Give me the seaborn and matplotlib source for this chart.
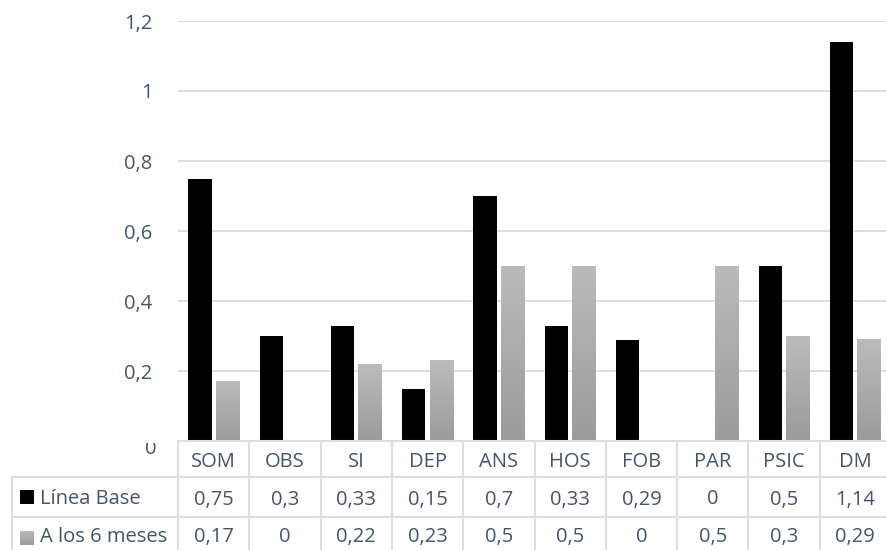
import numpy as np
import pandas as pd
import matplotlib
matplotlib.use("Agg")
import matplotlib.pyplot as plt
import seaborn as sns
from matplotlib.transforms import blended_transform_factory, Bbox, TransformedBbox
from matplotlib.colors import LinearSegmentedColormap
from matplotlib.patches import Rectangle
from matplotlib.lines import Line2D

# Data
categories = ["SOM", "OBS", "SI", "DEP", "ANS", "HOS", "FOB", "PAR", "PSIC", "DM"]
series_names = ["Línea Base", "A los 6 meses"]
linea_base = [0.75, 0.3, 0.33, 0.15, 0.7, 0.33, 0.29, 0, 0.5, 1.14]
seis_meses = [0.17, 0, 0.22, 0.23, 0.5, 0.5, 0, 0.5, 0.3, 0.29]
y_ticks = [0, 0.2, 0.4, 0.6, 0.8, 1.0, 1.2]


def fmt(v):
    return f"{v:g}".replace(".", ",")


TEXT = "#44546A"
GRID = "#D9DEE7"
FS = 14.5

sns.set_theme(style="white")
plt.rcParams["font.family"] = ["Open Sans", "DejaVu Sans"]

W, H = 886, 550
fig = plt.figure(figsize=(W / 100, H / 100), dpi=100)

ax = fig.add_axes([178 / W, (H - 441) / H, 713 / W, 420 / H])

df = pd.DataFrame({
    "cat": categories * 2,
    "serie": [series_names[0]] * len(categories) + [series_names[1]] * len(categories),
    "val": linea_base + seis_meses,
})
sns.barplot(data=df, x="cat", y="val", hue="serie", order=categories,
            hue_order=series_names, palette=["#000000", "#ABABAB"],
            saturation=1, width=0.77, gap=0.15, linewidth=0,
            errorbar=None, legend=False, ax=ax)

# gray bars get a vertical shade, lighter at the top
grad_cmap = LinearSegmentedColormap.from_list("shade", ["#9B9B9B", "#BBBBBB"])
grad = np.linspace(0, 1, 256).reshape(-1, 1)
for p in ax.containers[1]:
    h = p.get_height()
    if h <= 0:
        continue
    x0, w = p.get_x(), p.get_width()
    ax.imshow(grad, extent=[x0, x0 + w, 0, h], origin="lower", cmap=grad_cmap,
              aspect="auto", interpolation="bilinear", zorder=p.get_zorder() + 0.1)

ax.set_xlim(-0.5, len(categories) - 0.5)
ax.set_ylim(0, 1.2)
ax.set_yticks(y_ticks)
ax.set_yticklabels(["" if v == 0 else fmt(v) for v in y_ticks], color=TEXT, fontsize=FS)
ax.tick_params(axis="y", length=0, pad=18.5)
ax.tick_params(axis="x", length=0, labelbottom=False)
ax.set_xlabel("")
ax.set_ylabel("")
ax.yaxis.grid(True, color=GRID, lw=1.4)
ax.set_axisbelow(True)
for s in ax.spines.values():
    s.set_visible(False)

# overlay in pixel units for the data table
ov = fig.add_axes([0, 0, 1, 1], zorder=3)
ov.set_autoscale_on(False)
ov.set_xlim(0, W)
ov.set_ylim(H, 0)
ov.axis("off")
ov.patch.set_alpha(0)
bt = blended_transform_factory(ax.transData, ov.transData)

# zero label, partly hidden under the table top
zero = ov.text(157, 453.5, fmt(y_ticks[0]), ha="right", va="baseline", color=TEXT, fontsize=FS)
zero.set_clip_box(TransformedBbox(Bbox([[0, 0], [1, (H - 442.5) / H]]), fig.transFigure))
zero.set_clip_on(True)

n = len(categories)
edges = np.arange(n + 1) - 0.5
for e in edges:
    ov.add_line(Line2D([e, e], [441, H], transform=bt, color=GRID, lw=1.5, clip_on=False))
ov.add_line(Line2D([-0.5, n + 1], [441, 441], transform=bt, color=GRID, lw=1.5, clip_on=False))
for yy in (477, 517):
    ov.add_line(Line2D([12, W], [yy, yy], color=GRID, lw=1.5))
ov.add_line(Line2D([12, 12], [477, H], color=GRID, lw=1.5))

for i, c in enumerate(categories):
    ov.text(i, 467, c, transform=bt, ha="center", va="baseline", color=TEXT, fontsize=FS)
    ov.text(i, 504.5, fmt(linea_base[i]), transform=bt, ha="center", va="baseline", color=TEXT, fontsize=FS)
    ov.text(i, 542, fmt(seis_meses[i]), transform=bt, ha="center", va="baseline", color=TEXT, fontsize=FS)

# row headers with legend keys
ov.add_patch(Rectangle((20, 489.5), 14, 14, facecolor="#000000", edgecolor="none"))
ov.imshow(grad, extent=(20, 34, 545.5, 531.5), origin="lower", cmap=grad_cmap,
          aspect="auto", interpolation="bilinear")
ov.set_xlim(0, W)
ov.set_ylim(H, 0)
ov.text(40, 504.5, series_names[0], ha="left", va="baseline", color=TEXT, fontsize=FS)
ov.text(40, 542, series_names[1], ha="left", va="baseline", color=TEXT, fontsize=FS)

fig.savefig("out.png", dpi=100)
